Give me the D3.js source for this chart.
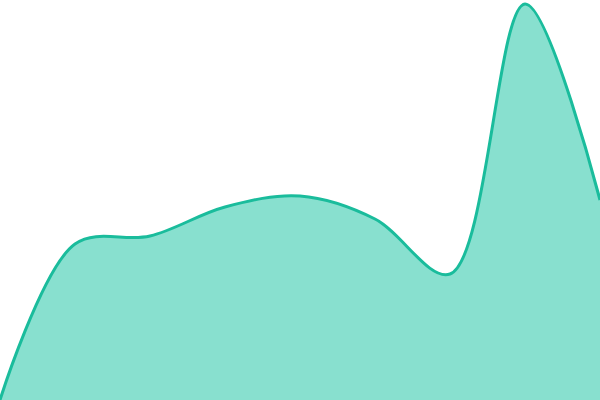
<!DOCTYPE html>
<html>
<head>
<meta charset="utf-8">
<script src="https://d3js.org/d3.v7.min.js"></script>
<style>html,body{margin:0;padding:0;background:#fff;overflow:hidden}</style>
</head>
<body>
<script>
const categories = [0, 1, 2, 3, 4, 5, 6, 7, 8];
const values = [0, 156, 164, 193, 204, 181, 126, 396, 200];

const W = 600, H = 400;
const svg = d3.select("body").append("svg").attr("width", W).attr("height", H);
const x = d3.scaleLinear().domain([0, 8]).range([0, W]);
const y = d3.scaleLinear().domain([0, 400]).range([H, 0]);
const data = categories.map((c, i) => ({c, v: values[i]}));

svg.append("path").datum(data)
  .attr("d", d3.area().x(d => x(d.c)).y0(H).y1(d => y(d.v)).curve(d3.curveCatmullRom))
  .attr("fill", "#88e0cf");
svg.append("path").datum(data)
  .attr("d", d3.line().x(d => x(d.c)).y(d => y(d.v)).curve(d3.curveCatmullRom))
  .attr("fill", "none").attr("stroke", "#1abc9c").attr("stroke-width", 3);
</script>
</body>
</html>
